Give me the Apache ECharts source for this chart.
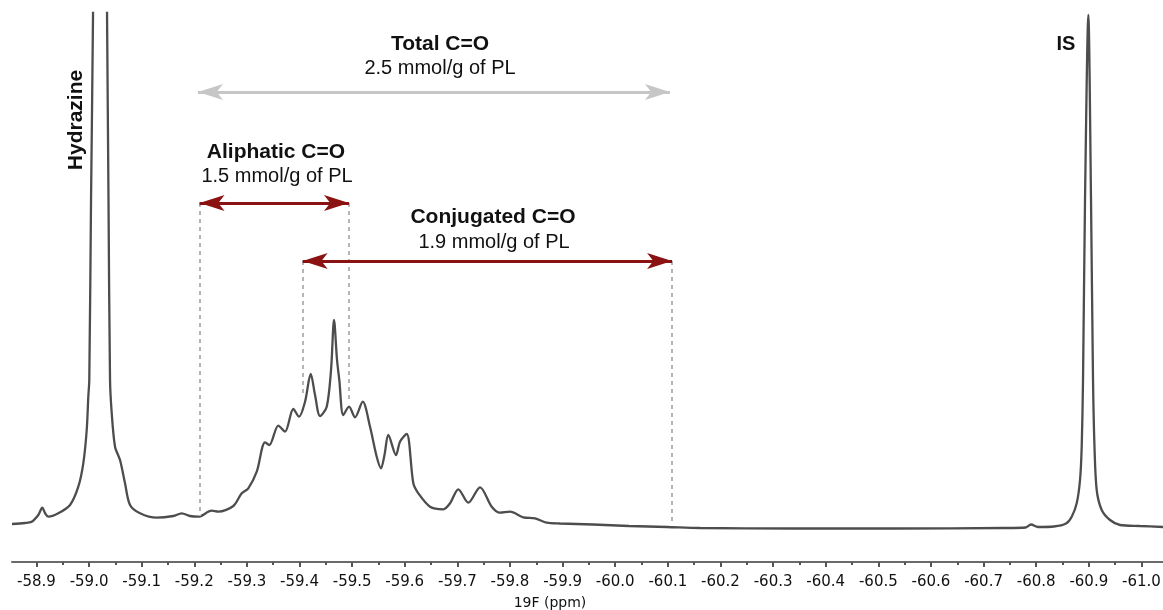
<!DOCTYPE html>
<html>
<head>
<meta charset="utf-8">
<script src="https://cdn.jsdelivr.net/npm/echarts@6/dist/echarts.min.js"></script>
<style>html,body{margin:0;padding:0;background:#fff}#c{width:1163px;height:610px}</style>
</head>
<body>
<div id="c"></div>
<script>
// Chemical shift (ppm) and intensity (arbitrary units)
const ppm = [
  -58.8536,-58.8783,-58.8911,-58.9036,-58.9112,-58.9163,-58.9226,-58.9416,-58.9639,-58.9796,
  -58.9891,-58.9956,-58.9986,-59.0005,-59.0038,-59.0076,-59.0209,-59.0342,-59.0370,-59.0399,
  -59.0431,-59.0494,-59.0589,-59.0684,-59.0779,-59.0969,-59.1286,-59.1602,-59.1761,-59.1919,
  -59.2077,-59.2331,-59.2457,-59.2742,-59.2902,-59.3027,-59.3187,-59.3344,-59.3426,-59.3597,
  -59.3724,-59.3882,-59.3991,-59.4105,-59.4213,-59.4295,-59.4390,-59.4517,-59.4599,-59.4656,
  -59.4713,-59.4756,-59.4832,-59.4941,-59.5055,-59.5201,-59.5340,-59.5467,-59.5549,-59.5615,
  -59.5688,-59.5834,-59.5910,-59.6037,-59.6163,-59.6258,-59.6480,-59.6733,-59.6860,-59.7018,
  -59.7208,-59.7430,-59.7653,-59.7810,-59.8000,-59.8253,-59.8476,-59.8698,
  -59.8951,-59.9578,-60.0262,-60.0984,-60.1611,-60.3322,-60.5355,-60.7389,-60.7801,-60.7902,-60.8035,-60.8339,-60.8567,
  -60.8675,-60.8770,-60.8833,-60.8865,-60.8890,-60.8928,-60.8991,-60.9042,-60.9080,-60.9108,-60.9150,-60.9245,-60.9403,-60.9593,-60.9973,-61.0410
];
const intensity = [
  0,1,2.3,9,16.3,11,7.3,10.7,19,37.3,
  60.7,94,127.3,144,324,511,1400,511,324,144,
  111,77.3,64,40.7,19,10.7,6.3,8,10.7,8,
  7.3,13.3,12.3,18,30.7,35.7,52.3,81.7,79,98.3,
  92.3,115,107.3,122.3,150,129,108,117.3,154,204,
  164,144,109,117.3,106.7,122.3,97.3,67.3,55.7,69,
  89,69,82.3,90,40.7,30.7,17.3,14.7,20.7,34.7,
  21.3,36.7,17.3,11.3,12.3,6.7,5.7,1.3,
  0.5,-0.5,-2,-3,-4,-4.5,-4.5,-4,-3.5,-0.5,-3,-2.5,0.5,
  7.3,20.7,44,77.3,144,324,509,324,144,77.3,34,14,4,-1,-2,-3
];
const tickValues = [-58.9,-59.0,-59.1,-59.2,-59.3,-59.4,-59.5,-59.6,-59.7,-59.8,-59.9,-60.0,-60.1,-60.2,-60.3,-60.4,-60.5,-60.6,-60.7,-60.8,-60.9,-61.0];
const tickLabels = ['-58.9','-59.0','-59.1','-59.2','-59.3','-59.4','-59.5','-59.6','-59.7','-59.8','-59.9','-60.0','-60.1','-60.2','-60.3','-60.4','-60.5','-60.6','-60.7','-60.8','-60.9','-61.0'];
const minorTickValues = [-58.95,-59.05,-59.15,-59.25,-59.35,-59.45,-59.55,-59.65,-59.75,-59.85,-59.95,-60.05,-60.15,-60.25,-60.35,-60.45,-60.55,-60.65,-60.75,-60.85,-60.95];

// Integration regions (ppm) and annotation levels (intensity units)
const totalRange = [-59.207, -60.104];
const aliphaticRange = [-59.210, -59.494];
const conjugatedRange = [-59.406, -60.108];
const totalLevel = 432;
const aliphaticLevel = 321;
const conjugatedLevel = 263;
const guideBottoms = { aliphaticStart: 8, aliphaticEnd: 121, conjugatedStart: 131, conjugatedEnd: 0 };

const xMin = -61.041, xMax = -58.8536;
const yMin = -38, yMax = 511;

const chart = echarts.init(document.getElementById('c'), null, { renderer: 'canvas' });
const data = ppm.map((p, i) => [p, intensity[i]]);

const RED = '#8b1212';
const GREY_ARROW = '#c6c6c6';
const GUIDE = '#b5b5b5';
const HEAD = [12, 25];

function arrowLine(range, level) {
  return [ { coord: [range[0], level] }, { coord: [range[1], level] } ];
}
function guide(x, top, bottom) {
  return [{ coord: [x, top] }, { coord: [x, bottom] }];
}

const txtFont = '"Liberation Sans", Arial, sans-serif';
function label(text, x, y, bold, size) {
  return { type: 'text', x: x, y: y, silent: true, style: {
    text: text, fill: '#111', align: 'center', verticalAlign: 'middle',
    font: (bold ? 'bold ' : '') + size + 'px ' + txtFont } };
}

const baseX = {
  type: 'value', min: xMin, max: xMax, inverse: true, position: 'bottom', offset: 0,
  splitLine: { show: false }
};

chart.setOption({
  animation: false,
  backgroundColor: '#fff',
  grid: { left: 12, right: 0, top: 13, bottom: 48, containLabel: false, outerBoundsMode: 'none' },
  xAxis: [
    Object.assign({}, baseX, {
      axisLine: { show: true, onZero: false, lineStyle: { color: '#6a6a6a', width: 2 } },
      axisTick: { show: true, customValues: tickValues, length: 5, lineStyle: { color: '#555', width: 2 } },
      axisLabel: { show: true, customValues: tickValues, margin: 13, color: '#111',
        fontFamily: '"DejaVu Sans", Verdana, sans-serif', fontSize: 15, hideOverlap: false,
        showMinLabel: true, showMaxLabel: true,
        formatter: function (v) { const i = tickValues.findIndex(t => Math.abs(t - v) < 1e-6); return i >= 0 ? tickLabels[i] : ''; } }
    }),
    Object.assign({}, baseX, {
      axisLine: { show: false, onZero: false },
      axisTick: { show: true, customValues: minorTickValues, length: 3, lineStyle: { color: '#555', width: 2 } },
      axisLabel: { show: false }
    })
  ],
  yAxis: { type: 'value', min: yMin, max: yMax, show: false, splitLine: { show: false } },
  series: [
    {
      type: 'line', data: data, xAxisIndex: 0, symbol: 'none', smooth: 0.3, clip: true,
      lineStyle: { color: '#4d4d4d', width: 2.3 }, silent: true, z: 3
    },
    {
      type: 'line', data: [], xAxisIndex: 0, silent: true, z: 2,
      markLine: { silent: true, animation: false, label: { show: false },
        lineStyle: { color: GUIDE, width: 2, type: [4, 4] }, symbol: ['none', 'none'],
        data: [
          guide(aliphaticRange[0], aliphaticLevel, guideBottoms.aliphaticStart),
          guide(aliphaticRange[1], aliphaticLevel, guideBottoms.aliphaticEnd),
          guide(conjugatedRange[0], conjugatedLevel, guideBottoms.conjugatedStart),
          guide(conjugatedRange[1], conjugatedLevel, guideBottoms.conjugatedEnd)
        ] }
    },
    {
      type: 'line', data: [], xAxisIndex: 0, silent: true, z: 4,
      markLine: { silent: true, animation: false, label: { show: false },
        symbol: ['arrow', 'arrow'], symbolSize: HEAD, symbolOffset: 0,
        lineStyle: { color: GREY_ARROW, width: 3, type: 'solid' },
        data: [ arrowLine(totalRange, totalLevel) ] }
    },
    {
      type: 'line', data: [], xAxisIndex: 0, silent: true, z: 5,
      markLine: { silent: true, animation: false, label: { show: false },
        symbol: ['arrow', 'arrow'], symbolSize: HEAD, symbolOffset: 0,
        lineStyle: { color: RED, width: 3, type: 'solid' },
        data: [ arrowLine(aliphaticRange, aliphaticLevel), arrowLine(conjugatedRange, conjugatedLevel) ] }
    }
  ],
  graphic: [
    label('Total C=O', 440, 44, true, 21),
    label('2.5 mmol/g of PL', 440, 68, false, 20),
    label('Aliphatic C=O', 276, 152, true, 21),
    label('1.5 mmol/g of PL', 277, 176, false, 20),
    label('Conjugated C=O', 493, 217, true, 21),
    label('1.9 mmol/g of PL', 494, 242, false, 20),
    label('IS', 1066, 44, true, 20),
    Object.assign(label('Hydrazine', 76, 120, true, 21), { rotation: Math.PI / 2 }),
    { type: 'text', x: 550, y: 603, silent: true, style: { text: '19F (ppm)', fill: '#111', align: 'center', verticalAlign: 'middle', font: '14px "DejaVu Sans", Verdana, sans-serif' } }
  ]
});
</script>
</body>
</html>
